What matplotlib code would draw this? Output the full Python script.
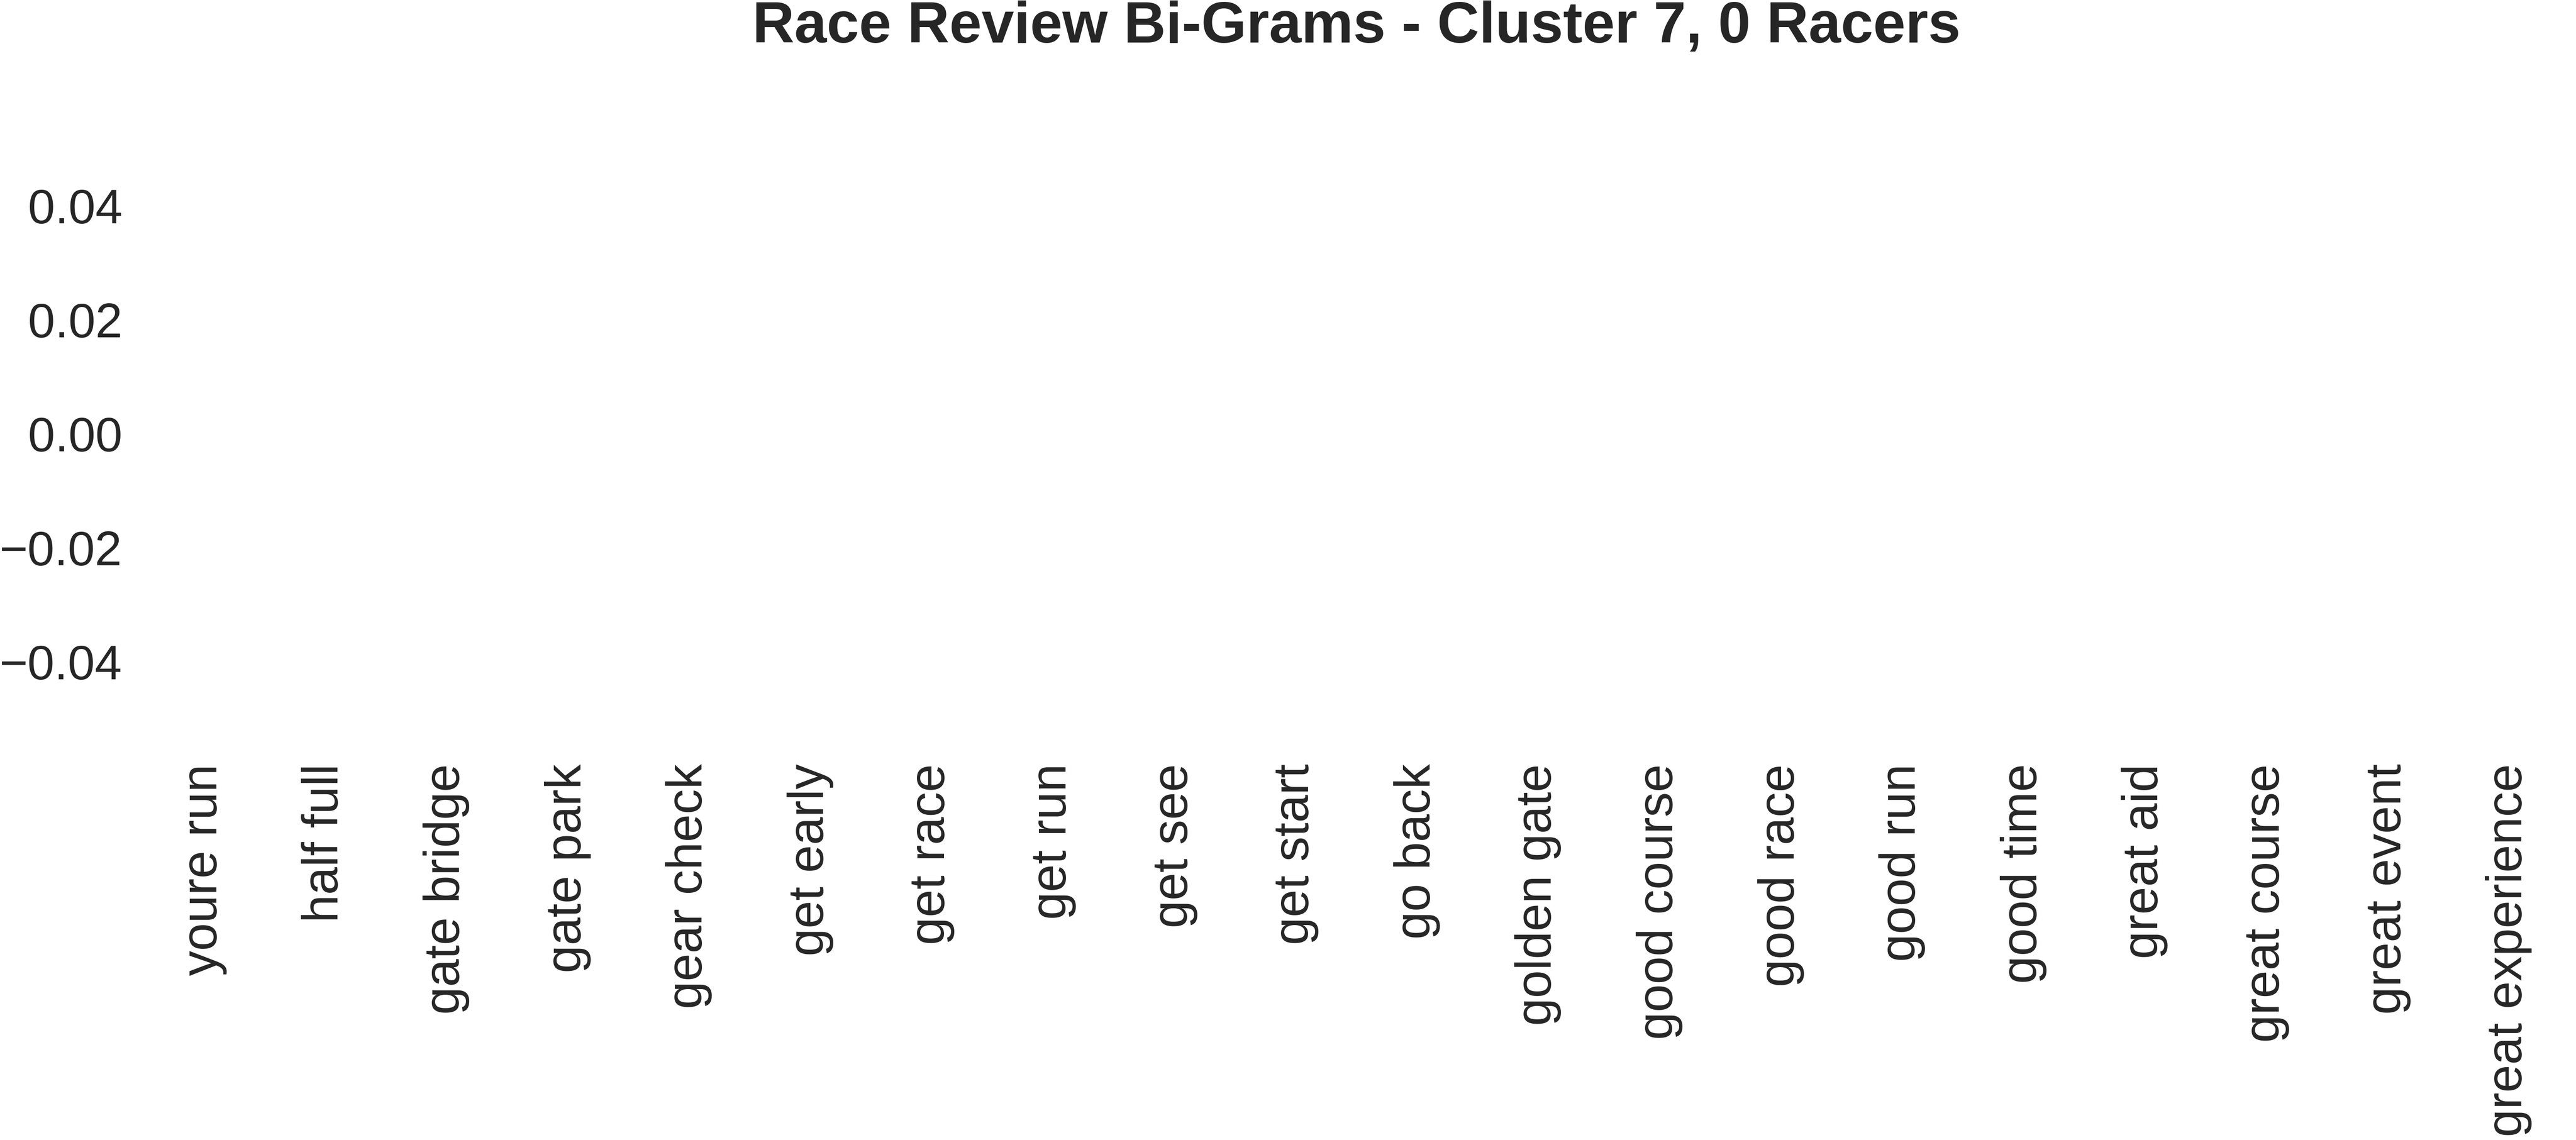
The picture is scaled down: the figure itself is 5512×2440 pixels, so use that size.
import matplotlib
matplotlib.use("Agg")
import matplotlib.pyplot as plt

bigrams = ["youre run", "half full", "gate bridge", "gate park", "gear check",
           "get early", "get race", "get run", "get see", "get start",
           "go back", "golden gate", "good course", "good race", "good run",
           "good time", "great aid", "great course", "great event",
           "great experience"]
counts = [0] * len(bigrams)
cluster = 7
racers = 0

plt.rcParams["font.family"] = ["Liberation Sans", "DejaVu Sans"]
plt.rcParams["text.color"] = ".15"
plt.rcParams["xtick.color"] = ".15"
plt.rcParams["ytick.color"] = ".15"

W, H, DPI = 5512, 2440, 200
fig = plt.figure(figsize=(W / DPI, H / DPI), dpi=DPI)
left, right, top, bottom = 306, 5498, 257, 1600
ax = fig.add_axes([left / W, 1 - bottom / H, (right - left) / W, (bottom - top) / H])

ax.bar(range(len(bigrams)), counts, width=0.8, color="#4c72b0")
ax.set_xlim(-0.5, len(bigrams) - 0.5)
ax.set_xticks(range(len(bigrams)))
ax.set_xticklabels(bigrams, rotation=90)
ax.tick_params(axis="y", labelsize=37.4, length=0, pad=16)
ax.tick_params(axis="x", labelsize=38.6, length=0, pad=12.5)
for s in ax.spines.values():
    s.set_visible(False)

# title sits centred over the axes, not the figure
fig.text((left + right) / 2 / W, 1 - 90 / H,
         "Race Review Bi-Grams - Cluster %d, %d Racers" % (cluster, racers),
         ha="center", va="baseline", fontsize=44.8, fontweight="bold")

fig.savefig("out.png", dpi=DPI, facecolor="white")
